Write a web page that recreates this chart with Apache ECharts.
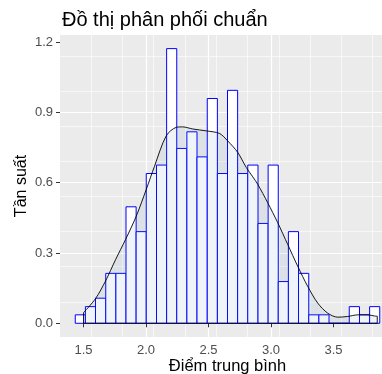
<!DOCTYPE html>
<html><head><meta charset="utf-8">
<script src="https://cdn.jsdelivr.net/npm/echarts@6/dist/echarts.min.js"></script>
<style>html,body{margin:0;padding:0;background:#fff;overflow:hidden}#c{width:395px;height:374px}</style>
</head><body><div id="c"></div><script>
const titleText = 'Đồ thị phân phối chuẩn';
const xTitle = 'Điểm trung bình';
const yTitle = 'Tần suất';
const xTicks = [1.5, 2.0, 2.5, 3.0, 3.5];
const yTicks = [0, 0.3, 0.6, 0.9, 1.2];
const binEdges = [1.434, 1.515, 1.596, 1.678, 1.759, 1.840, 1.921, 2.002, 2.084, 2.165,
  2.246, 2.327, 2.408, 2.490, 2.571, 2.652, 2.733, 2.814, 2.896, 2.977,
  3.058, 3.139, 3.220, 3.302, 3.383, 3.464, 3.545, 3.626, 3.708, 3.789, 3.870];
const binHeights = [0.036, 0.071, 0.107, 0.213, 0.213, 0.497, 0.391, 0.639, 0.675, 1.172,
  0.746, 0.817, 0.710, 0.959, 0.639, 0.994, 0.639, 0.675, 0.426, 0.675,
  0.178, 0.391, 0.213, 0.036, 0.036, 0, 0, 0.071, 0.036, 0.071];
const densX = [1.500, 1.596, 1.676, 1.756, 1.836, 1.922, 2.002, 2.068, 2.162, 2.242, 2.294, 2.374,
  2.482, 2.588, 2.654, 2.734, 2.802, 2.854, 2.894, 2.974, 3.054, 3.134, 3.214, 3.294,
  3.374, 3.454, 3.534, 3.614, 3.694, 3.774, 3.828, 3.850];
const densY = [0.045, 0.105, 0.180, 0.271, 0.357, 0.457, 0.571, 0.670, 0.800, 0.836, 0.838, 0.829,
  0.821, 0.810, 0.778, 0.729, 0.665, 0.625, 0.593, 0.514, 0.429, 0.336, 0.243, 0.157,
  0.086, 0.043, 0.026, 0.029, 0.036, 0.036, 0.031, 0.030];

const FONT = 'Liberation Sans, Arial, sans-serif';
const X_MIN = 1.312, X_MAX = 3.992, Y_MIN = -0.0586, Y_MAX = 1.2301;

const chart = echarts.init(document.getElementById('c'), null, {renderer: 'canvas'});
const lastI = densX.length - 1;
chart.setOption({
  animation: false,
  backgroundColor: '#fff',
  title: {text: titleText, left: 57, top: 5,
    textStyle: {fontSize: 20, fontWeight: 'normal', color: '#000', fontFamily: FONT}},
  grid: {left: 60, top: 35, right: 0, bottom: 37, show: true, containLabel: false,
    outerBoundsMode: 'none',
    backgroundColor: '#EBEBEB', borderWidth: 0},
  xAxis: [
    {type: 'value', min: X_MIN, max: X_MAX, interval: 0.5,
      axisLine: {show: false},
      axisTick: {show: true, customValues: xTicks, length: 4, lineStyle: {color: '#333', width: 1}},
      axisLabel: {customValues: xTicks, formatter: v => v.toFixed(1), color: '#4D4D4D',
        fontSize: 13, margin: 7, fontFamily: FONT},
      splitLine: {show: true, showMinLine: false, showMaxLine: false,
        lineStyle: {color: '#fff', width: 1.2}},
      name: xTitle, nameLocation: 'middle', nameGap: 21, nameMoveOverlap: false,
      nameTextStyle: {fontSize: 16.5, color: '#000', fontFamily: FONT}},
    {type: 'value', min: X_MIN, max: X_MAX, interval: 0.25, position: 'bottom',
      axisLine: {show: false}, axisTick: {show: false}, axisLabel: {show: false},
      splitLine: {show: true, showMinLine: false, showMaxLine: false,
        lineStyle: {color: '#fff', width: 0.6}}}
  ],
  yAxis: [
    {type: 'value', min: Y_MIN, max: Y_MAX, interval: 0.3,
      axisLine: {show: false},
      axisTick: {show: true, customValues: yTicks, length: 4, lineStyle: {color: '#333', width: 1}},
      axisLabel: {customValues: yTicks, formatter: v => v.toFixed(1), color: '#4D4D4D',
        fontSize: 13, margin: 7, fontFamily: FONT},
      splitLine: {show: true, showMinLine: false, showMaxLine: false,
        lineStyle: {color: '#fff', width: 1.2}},
      name: yTitle, nameLocation: 'middle', nameGap: 30, nameRotate: 90, nameMoveOverlap: false,
      nameTextStyle: {fontSize: 16, color: '#000', fontFamily: FONT}},
    {type: 'value', min: Y_MIN, max: Y_MAX, interval: 0.15,
      axisLine: {show: false}, axisTick: {show: false}, axisLabel: {show: false},
      splitLine: {show: true, showMinLine: false, showMaxLine: false,
        lineStyle: {color: '#fff', width: 0.6}}}
  ],
  series: [
    {type: 'custom', xAxisIndex: 0, yAxisIndex: 0, z: 2,
      data: binHeights.map((h, i) => [binEdges[i], binEdges[i + 1], h]),
      encode: {x: [0, 1], y: 2},
      renderItem: function (params, api) {
        const p0 = api.coord([api.value(0), api.value(2)]);
        const p1 = api.coord([api.value(1), 0]);
        return {type: 'rect',
          shape: {x: p0[0], y: p0[1], width: p1[0] - p0[0], height: p1[1] - p0[1]},
          style: {fill: '#fff', stroke: '#0000FF', lineWidth: 1}};
      }},
    {type: 'line', xAxisIndex: 0, yAxisIndex: 0, z: 3, smooth: 0.3, symbol: 'none',
      data: densX.map((x, i) => [x, densY[i]]),
      lineStyle: {color: '#000', width: 0.9},
      areaStyle: {color: 'rgba(70,130,180,0.12)'}},
    {type: 'line', xAxisIndex: 0, yAxisIndex: 0, z: 4, symbol: 'none',
      data: [[densX[0], densY[0]], [densX[0], 0], [densX[lastI], 0], [densX[lastI], densY[lastI]]],
      lineStyle: {color: '#000', width: 0.9}}
  ]
});
</script></body></html>
